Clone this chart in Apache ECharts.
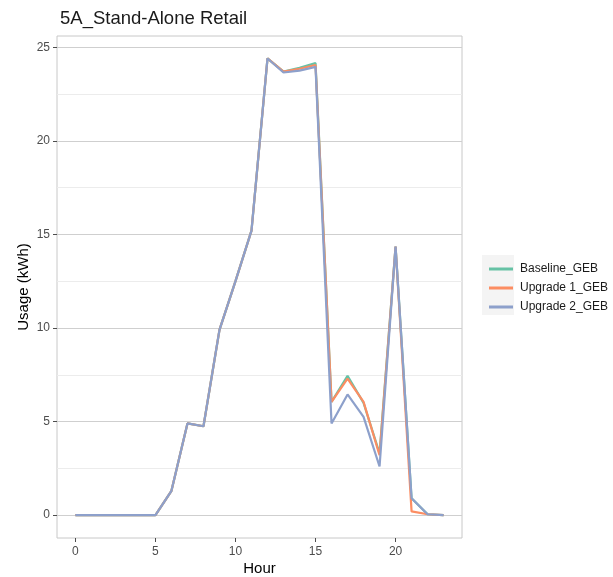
<!DOCTYPE html>
<html>
<head>
<meta charset="utf-8">
<script src="https://cdn.jsdelivr.net/npm/echarts@6/dist/echarts.min.js"></script>
<style>html,body{margin:0;padding:0;background:#fff}#c{width:613px;height:577px}</style>
</head>
<body>
<div id="c"></div>
<script>
const hours = [0,1,2,3,4,5,6,7,8,9,10,11,12,13,14,15,16,17,18,19,20,21,22,23];
const baseline = [0,0,0,0,0,0,1.3,4.9,4.75,9.9,12.5,15.2,24.4,23.7,23.9,24.15,6.05,7.45,6.0,3.3,14.35,0.9,0.05,0];
const upgrade1 = [0,0,0,0,0,0,1.3,4.9,4.75,9.9,12.5,15.2,24.4,23.7,23.85,24.05,6.05,7.3,6.05,3.2,14.35,0.2,0.05,0];
const upgrade2 = [0,0,0,0,0,0,1.3,4.9,4.75,9.9,12.5,15.2,24.4,23.65,23.75,23.95,4.9,6.45,5.25,2.6,14.35,0.9,0.05,0];
const seriesNames = ['Baseline_GEB','Upgrade 1_GEB','Upgrade 2_GEB'];
const colors = ['#66C2A5','#FC8D62','#8DA0CB'];
const xTicks = [0,5,10,15,20];
const yTicks = [0,5,10,15,20,25];
const yMinor = [2.5,7.5,12.5,17.5,22.5];

const font = '"Liberation Sans", Arial, sans-serif';
const chart = echarts.init(document.getElementById('c'), null, {renderer:'canvas'});
const pairs = arr => hours.map((h,i)=>[h,arr[i]]);
const allSeries = [baseline, upgrade1, upgrade2].map((arr,i)=>({
  name: seriesNames[i], type:'line', data: pairs(arr), showSymbol:false, symbol:'none',
  lineStyle:{width:2.2, color:colors[i]}, itemStyle:{color:colors[i]}, z: 3+i, silent:true
}));
chart.setOption({
  animation:false,
  backgroundColor:'#fff',
  textStyle:{fontFamily:font},
  title:{text:'5A_Stand-Alone Retail', left:55, top:4, textStyle:{fontSize:18.5, fontWeight:'normal', color:'#1a1a1a', fontFamily:font}},
  graphic:[{type:'rect', left:482, top:255, shape:{width:32, height:60}, style:{fill:'#f4f4f4'}, z:-1}],
  grid:{left:57, right:151, top:36, bottom:39, show:true, borderColor:'#c8c8c8', borderWidth:1, backgroundColor:'transparent',
    containLabel:false, outerBoundsMode:'none'},
  xAxis:{type:'value', min:-1.15, max:24.15,
    name:'Hour', nameLocation:'middle', nameGap:23, nameMoveOverlap:false, nameTextStyle:{fontSize:15, color:'#000', fontFamily:font},
    axisLine:{show:false, onZero:false},
    axisTick:{show:true, length:4, lineStyle:{color:'#4d4d4d'}, customValues:xTicks},
    axisLabel:{customValues:xTicks, color:'#4d4d4d', fontSize:12, margin:8, fontFamily:font},
    splitLine:{show:false}},
  yAxis:[{type:'value', min:-1.22, max:25.6,
    name:'Usage (kWh)', nameLocation:'middle', nameGap:26, nameMoveOverlap:false, nameRotate:90, nameTextStyle:{fontSize:15, color:'#000', fontFamily:font},
    axisLine:{show:false, onZero:false},
    axisTick:{show:true, length:4, lineStyle:{color:'#4d4d4d'}, customValues:yTicks},
    axisLabel:{customValues:yTicks, color:'#4d4d4d', fontSize:12, margin:7, fontFamily:font},
    splitLine:{show:true, lineStyle:{color:'#cfcfcf', width:1}}},
   {type:'value', min:-1.22, max:25.6, position:'left',
    axisLine:{show:false, onZero:false}, axisTick:{show:false, customValues:yMinor}, axisLabel:{show:false, customValues:yMinor},
    splitLine:{show:true, lineStyle:{color:'#ececec', width:1}}}],
  legend:{orient:'vertical', left:484, top:258, itemGap:7, itemWidth:24, itemHeight:3, icon:'rect',
    data:seriesNames, textStyle:{fontSize:12, color:'#1a1a1a', fontFamily:font, padding:[0,0,0,2]}, selectedMode:false},
  series: allSeries
});
</script>
</body>
</html>
